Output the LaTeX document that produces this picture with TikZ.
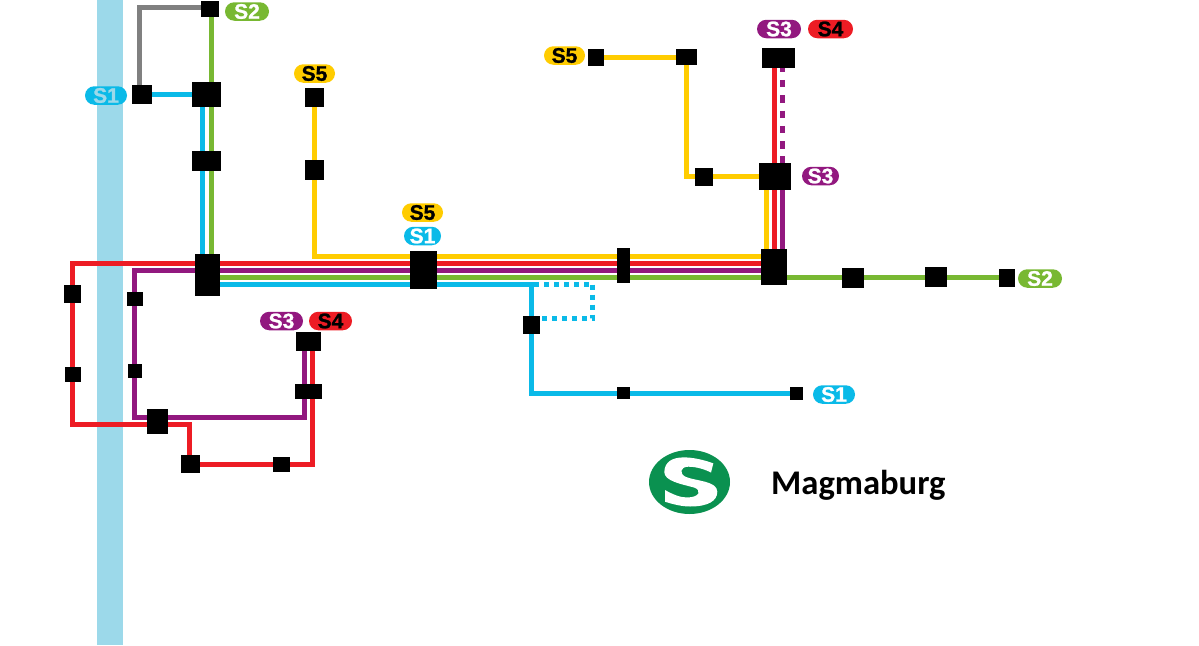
\documentclass[tikz,border=0pt]{standalone}
\usepackage{fontspec}
\setmainfont{Liberation Sans}
\newfontfamily\namefont{Carlito}
\newfontfamily\pillfont[BoldFeatures={FakeBold=1.2}]{Liberation Sans}
\usetikzlibrary{backgrounds,shapes.misc}
\definecolor{colA}{HTML}{0ABAE8}
\definecolor{colB}{HTML}{78B832}
\definecolor{colC}{HTML}{92187F}
\definecolor{colD}{HTML}{ED1C24}
\definecolor{colE}{HTML}{FFCC00}
\definecolor{river}{HTML}{9CD9EA}
\definecolor{sgreen}{HTML}{0A9150}
\tikzset{
  stn/.style 2 args={fill=black, inner sep=0pt, minimum width=#1, minimum height=#2},
  pill/.style n args={3}{rounded rectangle, fill=#1, text=#2, inner sep=0pt, minimum width=#3,
    minimum height=18.5, font=\pillfont\bfseries\fontsize{21}{21}\selectfont},
  track/.style={line width=5, #1}
}
\begin{document}
\begin{tikzpicture}[x=1pt, y=-1pt]
\useasboundingbox (0,0) rectangle (1199,645);
\node[stn={18}{16}] (tid0) at (210,9){};
\node[stn={20}{19}] (tid1) at (142,94.5){};
\node[stn={29}{25}] (tid2) at (206.5,94.5){};
\node[stn={29}{20}] (tid3) at (206.5,161){};
\node[stn={25}{42}] (tid4) at (207.5,275){};
\node[stn={19}{19}] (tid5) at (314.5,97.5){};
\node[stn={19}{20}] (tid6) at (314.5,170){};
\node[stn={27}{38}] (tid7) at (423.5,270){};
\node[stn={13}{35}] (tid8) at (623.5,265.5){};
\node[stn={26}{36}] (tid9) at (774,267){};
\node[stn={22}{20}] (tid10) at (853,278){};
\node[stn={22}{20}] (tid11) at (936,277){};
\node[stn={16}{18}] (tid12) at (1007,278){};
\node[stn={17}{18}] (tid13) at (531.5,325){};
\node[stn={13}{12}] (tid14) at (623.5,393){};
\node[stn={13}{13}] (tid15) at (796.5,393.5){};
\node[stn={16}{17}] (tid16) at (596,57){};
\node[stn={21}{16}] (tid17) at (686.5,57){};
\node[stn={18}{18}] (tid18) at (704,177){};
\node[stn={32}{27}] (tid19) at (775,176.5){};
\node[stn={33}{20}] (tid20) at (778.5,58){};
\node[stn={17}{18}] (tid21) at (72.5,294){};
\node[stn={16}{15}] (tid22) at (72.5,374.5){};
\node[stn={16}{14}] (tid23) at (134.5,299){};
\node[stn={14}{14}] (tid24) at (134.5,371){};
\node[stn={21}{25}] (tid25) at (157.5,421.5){};
\node[stn={19}{18}] (tid26) at (190.5,464){};
\node[stn={17}{15}] (tid27) at (281.5,464.5){};
\node[stn={27}{15}] (tid28) at (308.5,391.5){};
\node[stn={25}{19}] (tid29) at (308.5,341.5){};
% bends
\coordinate (bendA) at (139.5,7.5);
\coordinate (bendB) at (314.5,256.5);
\coordinate (bendC) at (72.5,263.5);
\coordinate (bendD) at (72.5,424.5);
\coordinate (bendE) at (189.3,424.5);
\coordinate (bendF) at (189.3,464.3);
\coordinate (bendG) at (312.5,464.3);
\coordinate (bendH) at (134.5,270.5);
\coordinate (bendI) at (134.5,417.5);
\coordinate (bendJ) at (304.5,417.5);
\coordinate (bendK) at (531.5,284.5);
\coordinate (bendL) at (531.5,393.5);
\coordinate (bendM) at (592.5,284.5);
\coordinate (bendN) at (592.5,318.5);
\coordinate (bendO) at (686.5,176.5);
\coordinate (bendP) at (539,284.5);
\coordinate (bendQ) at (544,284.5);
\begin{scope}[on background layer]
\node[fill=river, inner sep=0pt, minimum width=26, minimum height=645] (riverbar) at (110,322.5){};
\draw[track=gray] ([xshift=-2.5]tid1.center) -- (bendA) -- ([yshift=1.5]tid0.center);
\draw[track=colA] (tid1) -- (tid2);
\draw[track=colB] ([xshift=1.3]tid0.center) -- ([xshift=3.8]tid4.center);
\draw[track=colA] ([xshift=-4]tid2.center) -- ([xshift=-5]tid4.center);
\draw[track=colE] (tid5) -- (tid6);
\draw[track=colE] (tid6.center) -- (bendB) -- ([yshift=10.5]tid9.center);
\draw[track=colD] (tid21.center) -- (bendC) -- ([yshift=3.5]tid9.center);
\draw[track=colD] (tid21) -- (tid22);
\draw[track=colD] (tid22.center) -- (bendD) -- (bendE) -- (bendF) -- (bendG) -- ([xshift=4]tid29.center);
\draw[track=colC] (tid23.center) -- (bendH) -- ([yshift=-3.5]tid9.center);
\draw[track=colC] (tid23.center) -- (bendI) -- (bendJ) -- ([xshift=-4]tid29.center);
\draw[track=colB] ([yshift=-2.5]tid4.center) -- ([yshift=0.5]tid12.center);
\draw[track=colA] ([yshift=-9.5]tid4.center) -- (bendP);
\draw[track=colA] (bendK) -- (bendL) -- (tid15.center);
\draw[track=colA, dash pattern=on 5 off 5] (bendQ) -- (bendM);
\draw[track=colA, dash pattern=on 5 off 5] (bendM) -- (bendN) -- ([yshift=6.5]tid13.center);
\draw[track=colE] (tid16) -- (tid17);
\draw[track=colE] (tid17.center) -- (bendO) -- (tid19.center);
\draw[track=colE] ([xshift=-8.5]tid19.center) -- ([xshift=-7.5]tid9.center);
\draw[track=colD] ([xshift=-4]tid20.center) -- ([xshift=0.5]tid9.center);
\draw[track=colC] ([xshift=7.5]tid19.center) -- ([xshift=8.5]tid9.center);
\draw[track=colC, dash pattern=on 7.5 off 7.8] ([xshift=4,yshift=-6.6]tid20.center) -- ([xshift=7.5]tid19.north);
\end{scope}
\node[pill={colA}{river}{42}] (lab0) at (106,95.5){S1};
\node[pill={colB}{white}{44}] (lab1) at (247,11.5){S2};
\node[pill={colE}{black}{41}] (lab2) at (314.5,73.5){S5};
\node[pill={colE}{black}{41}] (lab3) at (422.5,212.5){S5};
\node[pill={colA}{white}{37}] (lab4) at (422.5,236){S1};
\node[pill={colC}{white}{43}] (lab5) at (281.5,321){S3};
\node[pill={colD}{black}{43}] (lab6) at (330.5,321){S4};
\node[pill={colE}{black}{41}] (lab7) at (564.5,55.5){S5};
\node[pill={colC}{white}{44}] (lab8) at (779,29){S3};
\node[pill={colD}{black}{45}] (lab9) at (830.5,29){S4};
\node[pill={colC}{white}{37}] (lab10) at (820.5,176){S3};
\node[pill={colB}{white}{44}] (lab11) at (1040,278.5){S2};
\node[pill={colA}{white}{42}] (lab12) at (834,394.5){S1};
% logo
\fill[sgreen] (689.5,482) ellipse [x radius=40.5, y radius=32];
\fill[white] (713.3,463.3) .. controls (696,457) and (665,451) .. (664.3,472)
  .. controls (664.3,481) and (681,484) .. (694,487.5)
  .. controls (702,490) and (700,497.5) .. (686.7,497.5)
  .. controls (680,497.5) and (672,494) .. (665,490)
  -- (665,501.7)
  .. controls (673,504.3) and (682,506.5) .. (690,506.5)
  .. controls (708,506.5) and (717.3,501) .. (717.3,491.7)
  .. controls (717.3,481) and (696,481) .. (686,477)
  .. controls (679,474) and (680,466.7) .. (688.3,466.7)
  .. controls (696.7,466.7) and (705,469.5) .. (711,472.5) -- cycle;
\node[anchor=base west, inner sep=0pt, font=\namefont\bfseries\fontsize{34.6}{34.6}\selectfont] (title) at (771,494){Magmaburg};
\end{tikzpicture}
\end{document}
